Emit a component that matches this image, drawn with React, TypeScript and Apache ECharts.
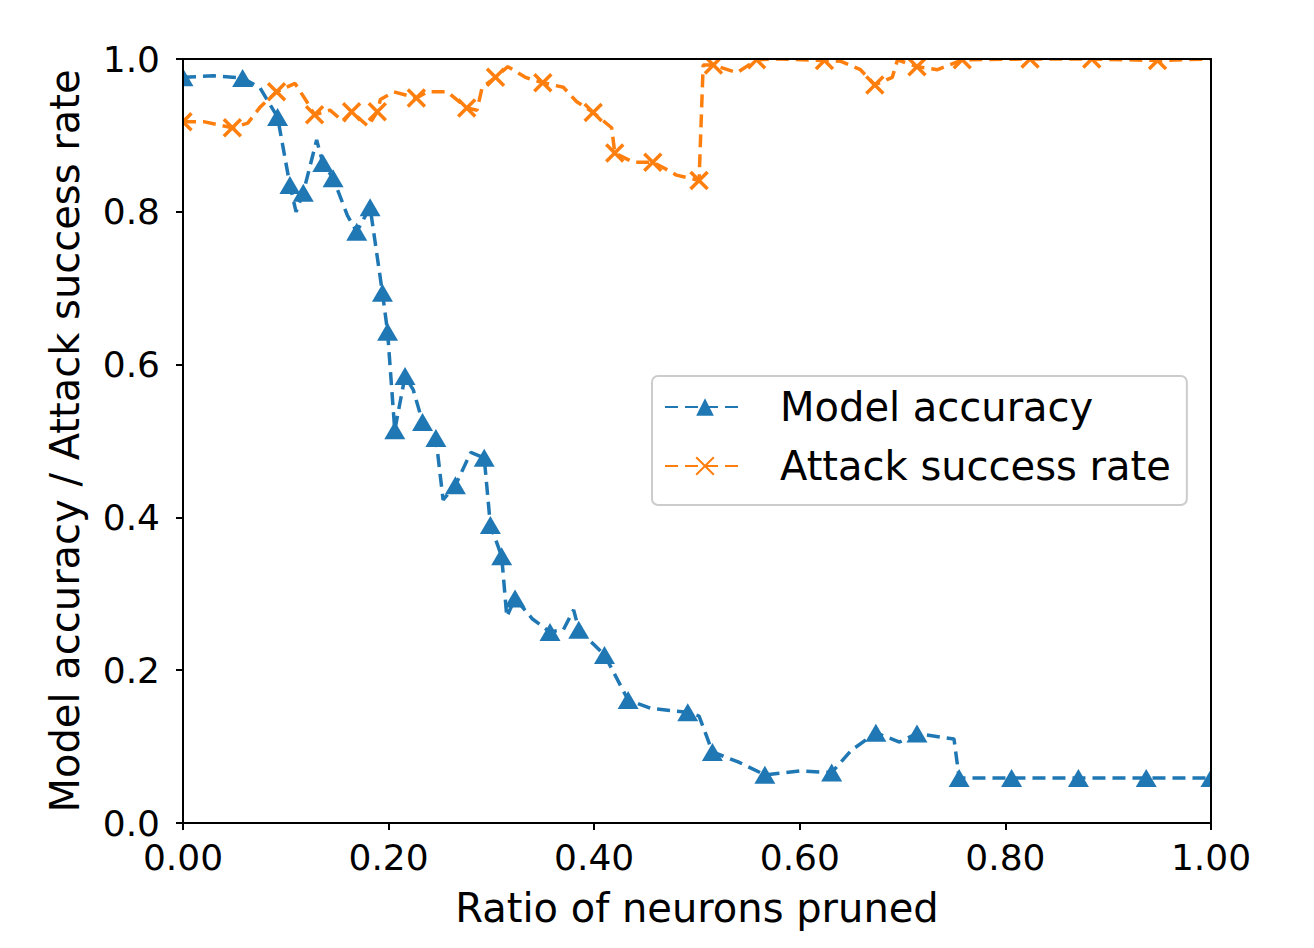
import React, { useEffect, useRef } from "react";
import * as echarts from "echarts";

// Model accuracy: x, y, marker flag (1 = marker drawn)
const accX = [0.0, 0.03, 0.058, 0.075, 0.092, 0.104, 0.11, 0.117, 0.13, 0.136, 0.146, 0.16, 0.169, 0.182, 0.194, 0.199, 0.206, 0.216, 0.224, 0.233, 0.246, 0.253, 0.265, 0.28, 0.293, 0.299, 0.31, 0.315, 0.323, 0.34, 0.357, 0.37, 0.38, 0.385, 0.41, 0.433, 0.455, 0.475, 0.491, 0.502, 0.515, 0.54, 0.566, 0.6, 0.631, 0.65, 0.674, 0.697, 0.714, 0.75, 0.755, 0.806, 0.871, 0.937, 1.0];
const accY = [0.976, 0.978, 0.975, 0.962, 0.924, 0.835, 0.8, 0.825, 0.894, 0.864, 0.844, 0.795, 0.774, 0.806, 0.694, 0.643, 0.514, 0.585, 0.567, 0.525, 0.504, 0.423, 0.442, 0.485, 0.478, 0.39, 0.349, 0.27, 0.294, 0.267, 0.25, 0.253, 0.279, 0.253, 0.22, 0.161, 0.15, 0.147, 0.145, 0.14, 0.093, 0.08, 0.063, 0.068, 0.066, 0.095, 0.118, 0.106, 0.117, 0.11, 0.059, 0.059, 0.059, 0.059, 0.059];
const accMark = [1, 0, 1, 0, 1, 1, 0, 1, 0, 1, 1, 0, 1, 1, 1, 1, 1, 1, 0, 1, 1, 0, 1, 0, 1, 1, 1, 0, 1, 0, 1, 0, 0, 1, 1, 1, 0, 0, 1, 0, 1, 0, 1, 0, 1, 0, 1, 0, 1, 0, 1, 1, 1, 1, 1];

// Attack success rate: x, y, marker flag
const asrX = [0.0, 0.02, 0.048, 0.063, 0.075, 0.091, 0.109, 0.12, 0.128, 0.143, 0.156, 0.164, 0.18, 0.189, 0.192, 0.205, 0.227, 0.238, 0.257, 0.276, 0.286, 0.291, 0.304, 0.316, 0.333, 0.35, 0.37, 0.383, 0.399, 0.417, 0.42, 0.438, 0.457, 0.467, 0.48, 0.502, 0.506, 0.516, 0.539, 0.558, 0.58, 0.624, 0.64, 0.659, 0.673, 0.69, 0.695, 0.714, 0.734, 0.758, 0.824, 0.884, 0.948, 1.0];
const asrY = [0.918, 0.918, 0.91, 0.916, 0.937, 0.957, 0.968, 0.945, 0.927, 0.933, 0.918, 0.931, 0.912, 0.931, 0.947, 0.957, 0.949, 0.957, 0.957, 0.936, 0.933, 0.963, 0.976, 0.99, 0.976, 0.969, 0.963, 0.944, 0.93, 0.91, 0.877, 0.865, 0.865, 0.858, 0.848, 0.841, 0.992, 0.992, 0.982, 0.999, 1.0, 0.998, 0.997, 0.986, 0.966, 0.976, 0.999, 0.99, 0.986, 0.999, 1.0, 1.0, 0.998, 1.0];
const asrMark = [1, 0, 1, 0, 0, 1, 0, 0, 1, 0, 0, 1, 0, 1, 0, 0, 1, 0, 0, 1, 0, 0, 1, 0, 0, 1, 0, 0, 1, 0, 1, 0, 1, 0, 0, 1, 0, 1, 0, 1, 0, 1, 0, 0, 1, 0, 0, 1, 0, 1, 1, 1, 1, 0];

const xTicks = [0, 0.2, 0.4, 0.6, 0.8, 1.0];
const yTicks = [0, 0.2, 0.4, 0.6, 0.8, 1.0];

const BLUE = "#1f77b4";
const ORANGE = "#ff7f0e";
const FONT = "DejaVu Sans";
const XMARK = "path://M0,0 L10,10 M10,0 L0,10";

function build(xs: number[], ys: number[], marks: number[]) {
  return xs.map((x, i) =>
    marks[i] ? { value: [x, ys[i]] } : { value: [x, ys[i]], symbol: "none" }
  );
}

export default function App() {
  const ref = useRef<HTMLDivElement>(null);
  useEffect(() => {
    if (!ref.current) return;
    const chart = echarts.init(ref.current, null, { renderer: "svg" });
    const L = 183, T = 59, W = 1028, H = 764;
    chart.setOption({
      animation: false,
      backgroundColor: "#ffffff",
      textStyle: { fontFamily: FONT },
      grid: { left: L, top: T, width: W, height: H, show: false },
      xAxis: {
        type: "value",
        min: xTicks[0],
        max: xTicks[xTicks.length - 1],
        interval: 0.2,
        name: "Ratio of neurons pruned",
        nameLocation: "middle",
        nameGap: 65,
        nameTextStyle: { fontSize: 40, color: "#000", fontFamily: FONT },
        axisLine: { show: true, lineStyle: { color: "#000", width: 2 } },
        axisTick: { show: true, inside: false, length: 7, lineStyle: { color: "#000", width: 2 } },
        axisLabel: { fontSize: 36, color: "#000", margin: 16, fontFamily: FONT, formatter: (v: number) => v.toFixed(2) },
        splitLine: { show: false },
      },
      yAxis: {
        type: "value",
        min: yTicks[0],
        max: yTicks[yTicks.length - 1],
        interval: 0.2,
        name: "Model accuracy / Attack success rate",
        nameLocation: "middle",
        nameGap: 98,
        nameTextStyle: { fontSize: 40, color: "#000", fontFamily: FONT },
        axisLine: { show: true, lineStyle: { color: "#000", width: 2 } },
        axisTick: { show: true, inside: false, length: 7, lineStyle: { color: "#000", width: 2 } },
        axisLabel: { fontSize: 36, color: "#000", margin: 23, fontFamily: FONT, formatter: (v: number) => v.toFixed(1) },
        splitLine: { show: false },
      },
      legend: {
        orient: "vertical",
        left: 652,
        top: 376,
        padding: [9, 16, 17, 12],
        itemGap: 15,
        itemWidth: 80,
        itemHeight: 22,
        borderColor: "#cccccc",
        borderWidth: 2,
        borderRadius: 6,
        backgroundColor: "rgba(255,255,255,0.85)",
        textStyle: { fontSize: 40, color: "#000", fontFamily: FONT, lineHeight: 44, padding: [0, 0, 0, 30] },
        data: ["Model accuracy", "Attack success rate"],
      },
      series: [
        {
          name: "Model accuracy",
          type: "line",
          data: build(accX, accY, accMark),
          symbol: "triangle",
          symbolSize: [21, 18],
          showAllSymbol: true,
          clip: true,
          lineStyle: { color: BLUE, width: 3.5, type: [13, 7] },
          itemStyle: { color: BLUE },
        },
        {
          name: "Attack success rate",
          type: "line",
          data: build(asrX, asrY, asrMark),
          symbol: XMARK,
          symbolSize: 17,
          showAllSymbol: true,
          clip: true,
          lineStyle: { color: ORANGE, width: 3.5, type: [13, 7] },
          itemStyle: { color: ORANGE, borderColor: ORANGE, borderWidth: 3.5 },
        },
      ],
      graphic: [
        { type: "rect", z: 100, shape: { x: L + 1, y: 10, width: W + 40, height: T - 11 }, style: { fill: "#fff" }, silent: true },
        { type: "rect", z: 100, shape: { x: L + W + 1, y: 10, width: 40, height: H + T - 11 }, style: { fill: "#fff" }, silent: true },
        { type: "rect", z: 100, shape: { x: L - 18, y: T + 2, width: 17, height: 90 }, style: { fill: "#fff" }, silent: true },
        { type: "rect", z: 101, shape: { x: L, y: T, width: W, height: H }, style: { fill: "none", stroke: "#000", lineWidth: 2 }, silent: true },
      ],
    });
    return () => chart.dispose();
  }, []);
  return (
    <div
      ref={ref}
      style={{ position: "fixed", left: 0, top: 0, width: 1314, height: 948, background: "#fff" }}
    />
  );
}
